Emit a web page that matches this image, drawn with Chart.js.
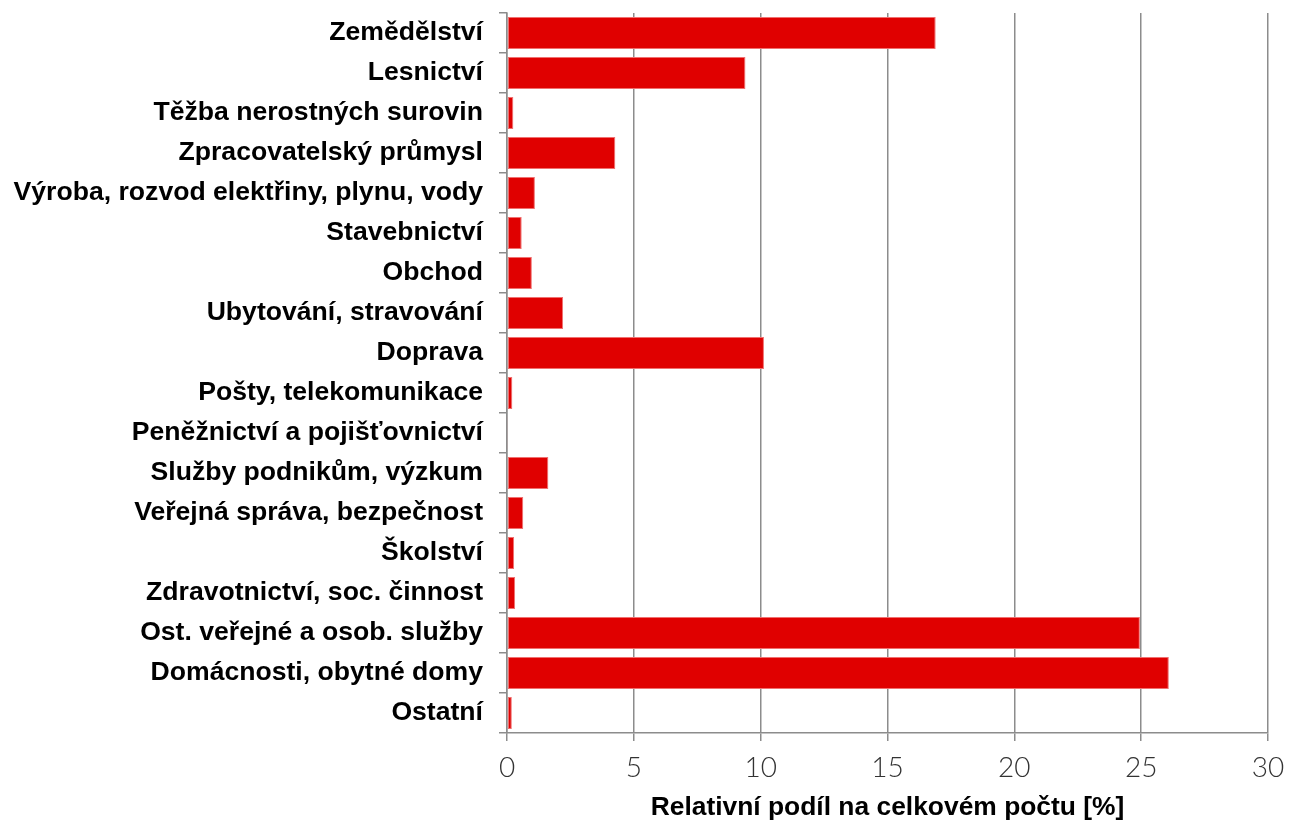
<!DOCTYPE html>
<html>
<head>
<meta charset="utf-8">
<script src="https://cdn.jsdelivr.net/npm/chart.js@4"></script>
<style>
  html, body { margin: 0; padding: 0; background: #fff; }
  #wrap { width: 1293px; height: 820px; }
</style>
</head>
<body>
<div id="wrap"><canvas id="chart"></canvas></div>
<script>
const categories = [
  'Zemědělství',
  'Lesnictví',
  'Těžba nerostných surovin',
  'Zpracovatelský průmysl',
  'Výroba, rozvod elektřiny, plynu, vody',
  'Stavebnictví',
  'Obchod',
  'Ubytování, stravování',
  'Doprava',
  'Pošty, telekomunikace',
  'Peněžnictví a pojišťovnictví',
  'Služby podnikům, výzkum',
  'Veřejná správa, bezpečnost',
  'Školství',
  'Zdravotnictví, soc. činnost',
  'Ost. veřejné a osob. služby',
  'Domácnosti, obytné domy',
  'Ostatní'
];
const shares = [16.9, 9.4, 0.25, 4.27, 1.1, 0.58, 0.98, 2.21, 10.13, 0.21, 0.04, 1.63, 0.64, 0.28, 0.32, 24.95, 26.09, 0.19];
const xTicks = [0, 5, 10, 15, 20, 25, 30];
const xTitle = 'Relativní podíl na celkovém počtu [%]';

const gridGray = '#8c8c8c';

new Chart(document.getElementById('chart'), {
  type: 'bar',
  data: {
    labels: categories,
    datasets: [{
      data: shares,
      backgroundColor: '#e00000',
      borderColor: '#f07070',
      borderWidth: 1,
      borderSkipped: false,
      barPercentage: 0.8,
      categoryPercentage: 1.0
    }]
  },
  options: {
    indexAxis: 'y',
    responsive: true,
    maintainAspectRatio: false,
    animation: false,
    layout: { padding: { top: 13, right: 25, left: 0, bottom: 0 } },
    plugins: {
      legend: { display: false },
      tooltip: { enabled: false }
    },
    scales: {
      x: {
        min: xTicks[0],
        max: xTicks[xTicks.length - 1],
        afterBuildTicks: s => { s.ticks = xTicks.map(v => ({ value: v })); },
        afterFit: s => { s.height = 820 - 733; s.paddingLeft = 0; s.paddingRight = 0; },
        grid: { color: gridGray, lineWidth: 1.5, tickLength: 8 },
        border: { color: gridGray, width: 1.5 },
        ticks: {
          color: '#333',
          padding: 10,
          font: { family: 'Lato', weight: 300, size: 28 }
        },
        title: {
          display: true,
          text: xTitle,
          color: '#000',
          padding: { top: 4, bottom: -4 },
          font: { family: 'Liberation Sans', weight: 'bold', size: 26.4 }
        }
      },
      y: {
        afterFit: s => { s.width = 507; s.paddingTop = 0; s.paddingBottom = 0; },
        grid: { display: true, drawOnChartArea: false, color: gridGray, lineWidth: 1.5, tickLength: 8, offset: true },
        border: { color: gridGray, width: 1.5 },
        ticks: {
          color: '#000',
          padding: 16,
          autoSkip: false,
          font: { family: 'Liberation Sans', weight: 'bold', size: 26.6 }
        }
      }
    }
  }
});
</script>
</body>
</html>
